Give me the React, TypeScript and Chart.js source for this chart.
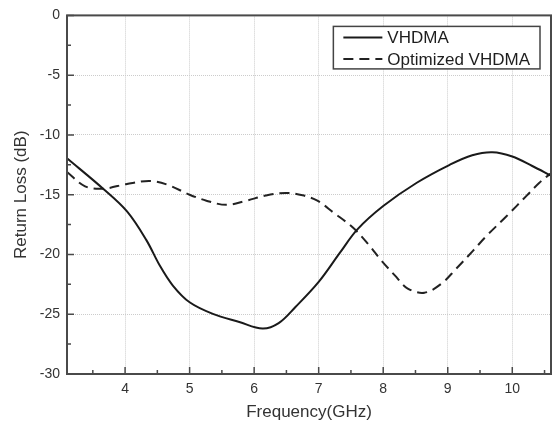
import React, { useEffect, useRef } from "react";
import { Chart, registerables } from "chart.js";

Chart.register(...registerables);

// ---- data ----
const vhdmaFreq = [3.1, 3.66, 4.03, 4.33, 4.54, 4.74, 5.0, 5.36, 5.77, 6.13, 6.38, 6.64, 7.0, 7.33, 7.6, 8.0, 8.52, 9.03, 9.38, 9.69, 10.0, 10.31, 10.6];
const vhdmaLoss = [-11.95, -14.5, -16.4, -18.8, -20.95, -22.6, -24.0, -24.97, -25.65, -26.2, -25.75, -24.4, -22.3, -19.85, -17.9, -15.95, -14.0, -12.5, -11.7, -11.45, -11.8, -12.6, -13.4];

const optFreq = [3.1, 3.38, 3.66, 4.03, 4.38, 4.65, 5.0, 5.26, 5.57, 5.88, 6.18, 6.49, 6.75, 6.98, 7.23, 7.53, 7.77, 7.97, 8.18, 8.38, 8.64, 8.9, 9.13, 9.39, 9.6, 9.91, 10.22, 10.42, 10.6];
const optLoss = [-13.1, -14.3, -14.5, -14.1, -13.85, -14.15, -15.0, -15.5, -15.85, -15.5, -15.07, -14.85, -15.05, -15.5, -16.5, -17.75, -19.15, -20.5, -21.75, -22.85, -23.2, -22.45, -21.2, -19.7, -18.45, -16.8, -15.1, -14.0, -13.2];

const seriesLabels = ["VHDMA", "Optimized VHDMA"];

const xTicks = [4, 5, 6, 7, 8, 9, 10];
const xMinorTicks = [3.5, 4.5, 5.5, 6.5, 7.5, 8.5, 9.5, 10.5];
const yTicks = [-30, -25, -20, -15, -10, -5, 0];
const yMinorTicks = [-27.5, -22.5, -17.5, -12.5, -7.5, -2.5];

const xTitle = "Frequency(GHz)";
const yTitle = "Return Loss (dB)";

const FONT = "'Liberation Sans', Arial, Helvetica, sans-serif";

const framePlugin = {
  id: "frameTicksLegend",
  afterDraw(chart: any) {
    const { ctx, chartArea: a, scales } = chart;
    const x = scales.x;
    const y = scales.y;
    ctx.save();
    ctx.strokeStyle = "#4a4a4a";
    ctx.lineWidth = 1.5;
    ctx.setLineDash([]);
    ctx.beginPath();
    xTicks.forEach((v) => {
      const px = x.getPixelForValue(v);
      ctx.moveTo(px, a.bottom);
      ctx.lineTo(px, a.bottom - 7);
    });
    xMinorTicks.forEach((v) => {
      const px = x.getPixelForValue(v);
      ctx.moveTo(px, a.bottom);
      ctx.lineTo(px, a.bottom - 4);
    });
    yTicks.forEach((v) => {
      const py = y.getPixelForValue(v);
      ctx.moveTo(a.left, py);
      ctx.lineTo(a.left + 7, py);
    });
    yMinorTicks.forEach((v) => {
      const py = y.getPixelForValue(v);
      ctx.moveTo(a.left, py);
      ctx.lineTo(a.left + 4, py);
    });
    ctx.stroke();

    ctx.lineWidth = 2;
    ctx.strokeRect(a.left, a.top, a.right - a.left, a.bottom - a.top);

    // legend
    ctx.font = `17px ${FONT}`;
    const datasets = chart.data.datasets;
    const textW = Math.max(...datasets.map((d: any) => ctx.measureText(d.label).width));
    const lineLen = 39;
    const padL = 10;
    const gap = 5;
    const padR = 10;
    const boxW = padL + lineLen + gap + textW + padR;
    const rowH = 21.5;
    const boxH = 42.5;
    const boxRight = a.right - 11;
    const boxTop = a.top + 11;
    const boxLeft = boxRight - boxW;
    ctx.fillStyle = "#ffffff";
    ctx.fillRect(boxLeft, boxTop, boxW, boxH);
    ctx.strokeStyle = "#444444";
    ctx.lineWidth = 1.5;
    ctx.strokeRect(boxLeft, boxTop, boxW, boxH);
    datasets.forEach((d: any, i: number) => {
      const cy = boxTop + 11 + i * rowH;
      ctx.strokeStyle = d.borderColor;
      ctx.lineWidth = 2;
      ctx.setLineDash(d.borderDash || []);
      ctx.beginPath();
      ctx.moveTo(boxLeft + padL, cy);
      ctx.lineTo(boxLeft + padL + lineLen, cy);
      ctx.stroke();
      ctx.setLineDash([]);
      ctx.fillStyle = "#1e1e1e";
      ctx.textAlign = "left";
      ctx.textBaseline = "middle";
      ctx.fillText(d.label, boxLeft + padL + lineLen + gap, cy + 1);
    });
    ctx.restore();
  },
};

export default function App() {
  const ref = useRef<HTMLCanvasElement | null>(null);

  useEffect(() => {
    document.body.style.margin = "0";
    if (!ref.current) return;
    const chart = new Chart(ref.current, {
      type: "line",
      data: {
        datasets: [
          {
            label: seriesLabels[0],
            data: vhdmaFreq.map((f, i) => ({ x: f, y: vhdmaLoss[i] })),
            borderColor: "#1a1a1a",
            borderWidth: 2,
            pointRadius: 0,
            tension: 0.35,
            fill: false,
          },
          {
            label: seriesLabels[1],
            data: optFreq.map((f, i) => ({ x: f, y: optLoss[i] })),
            borderColor: "#222222",
            borderWidth: 2,
            borderDash: [10, 6],
            pointRadius: 0,
            tension: 0.35,
            fill: false,
          },
        ],
      },
      options: {
        animation: false,
        responsive: false,
        maintainAspectRatio: false,
        layout: { padding: { left: 0, top: 13, right: 7, bottom: 0 } },
        plugins: {
          legend: { display: false },
          tooltip: { enabled: false },
        },
        scales: {
          x: {
            type: "linear",
            min: 3.1,
            max: 10.6,
            afterBuildTicks: (s: any) => {
              s.ticks = xTicks.map((v) => ({ value: v }));
            },
            afterFit: (s: any) => {
              s.height = 55;
            },
            grid: { color: "#cccccc", lineWidth: 1, drawTicks: false },
            border: { display: false, dash: [1, 1] },
            ticks: {
              autoSkip: false,
              maxRotation: 0,
              padding: 7,
              color: "#333333",
              font: { family: FONT, size: 14 },
              callback: (v: any) => String(v),
            },
            title: {
              display: true,
              text: xTitle,
              color: "#333333",
              font: { family: FONT, size: 17 },
              padding: { top: 0, bottom: 6 },
            },
          },
          y: {
            type: "linear",
            min: -30,
            max: 0,
            afterBuildTicks: (s: any) => {
              s.ticks = yTicks.map((v) => ({ value: v }));
            },
            afterFit: (s: any) => {
              s.width = 67;
            },
            grid: { color: "#cccccc", lineWidth: 1, drawTicks: false },
            border: { display: false, dash: [1, 1] },
            ticks: {
              autoSkip: false,
              padding: 7,
              color: "#333333",
              font: { family: FONT, size: 14 },
              callback: (v: any) => String(v),
            },
            title: {
              display: true,
              text: yTitle,
              color: "#333333",
              font: { family: FONT, size: 17 },
              padding: { top: 11, bottom: 0 },
            },
          },
        },
      },
      plugins: [framePlugin],
    } as any);
    return () => chart.destroy();
  }, []);

  return (
    <div style={{ width: 558, height: 429 }}>
      <canvas ref={ref} width={558} height={429} style={{ display: "block" }} />
    </div>
  );
}
